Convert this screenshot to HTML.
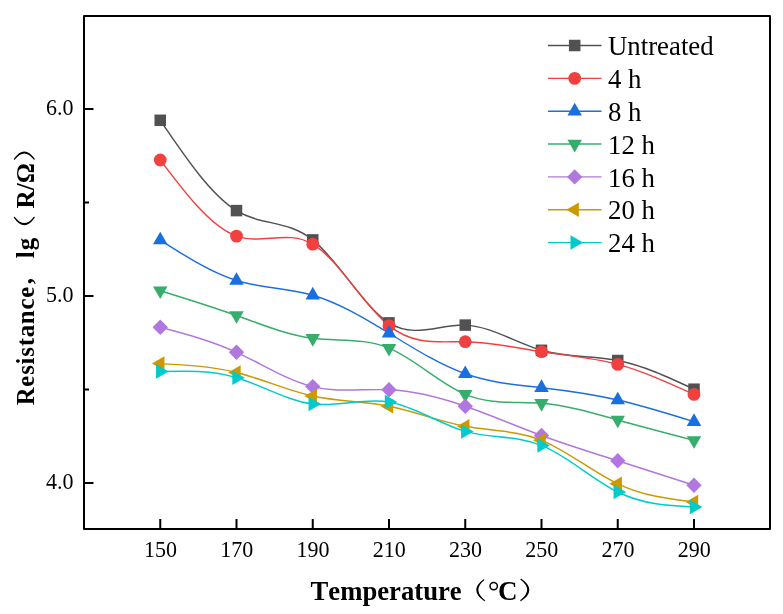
<!DOCTYPE html>
<html><head><meta charset="utf-8"><style>
html,body{margin:0;padding:0;background:#fff;}
svg{display:block;will-change:transform;}
text{font-family:"Liberation Serif",serif;}
</style></head><body>
<svg width="783" height="614" viewBox="0 0 783 614">
<rect width="783" height="614" fill="#fff"/>
<path d="M160.25 120.30C185.67 157.70 211.08 195.10 236.50 210.60C261.92 226.10 287.33 219.70 312.75 239.90C338.17 260.10 363.58 306.90 389.00 322.90C414.42 338.90 439.83 324.09 465.25 325.10C490.67 326.11 516.08 342.93 541.50 350.30C566.92 357.67 592.33 355.59 617.75 360.50C643.17 365.41 668.58 377.30 694.00 389.20" fill="none" stroke="#515151" stroke-width="1.45"/>
<path d="M160.25 160.00C185.67 193.60 211.08 227.21 236.50 236.10C261.92 244.99 287.33 229.18 312.75 244.20C338.17 259.22 363.58 305.09 389.00 325.60C414.42 346.11 439.83 341.27 465.25 341.70C490.67 342.13 516.08 347.84 541.50 351.70C566.92 355.56 592.33 357.59 617.75 364.40C643.17 371.21 668.58 382.81 694.00 394.40" fill="none" stroke="#F14040" stroke-width="1.45"/>
<path d="M160.25 240.00C185.67 256.30 211.08 272.60 236.50 280.50C261.92 288.40 287.33 287.89 312.75 295.20C338.17 302.51 363.58 317.63 389.00 333.20C414.42 348.77 439.83 364.78 465.25 373.80C490.67 382.82 516.08 384.86 541.50 387.70C566.92 390.54 592.33 394.20 617.75 400.00C643.17 405.80 668.58 413.75 694.00 421.70" fill="none" stroke="#1A6FDF" stroke-width="1.45"/>
<path d="M160.25 290.70C185.67 298.53 211.08 306.37 236.50 315.50C261.92 324.63 287.33 335.06 312.75 338.30C338.17 341.54 363.58 337.58 389.00 348.10C414.42 358.62 439.83 383.62 465.25 394.30C490.67 404.98 516.08 401.32 541.50 403.30C566.92 405.28 592.33 412.88 617.75 420.00C643.17 427.12 668.58 433.76 694.00 440.40" fill="none" stroke="#37AD6B" stroke-width="1.45"/>
<path d="M160.25 327.30C185.67 334.00 211.08 340.70 236.50 352.30C261.92 363.90 287.33 380.42 312.75 386.60C338.17 392.78 363.58 388.64 389.00 389.80C414.42 390.96 439.83 397.43 465.25 406.20C490.67 414.97 516.08 426.05 541.50 435.50C566.92 444.95 592.33 452.79 617.75 460.80C643.17 468.81 668.58 477.01 694.00 485.20" fill="none" stroke="#B177DE" stroke-width="1.45"/>
<path d="M160.25 363.60C185.67 364.86 211.08 366.12 236.50 372.50C261.92 378.88 287.33 390.40 312.75 396.00C338.17 401.60 363.58 401.30 389.00 406.30C414.42 411.30 439.83 421.59 465.25 426.30C490.67 431.01 516.08 430.13 541.50 440.30C566.92 450.47 592.33 471.68 617.75 483.80C643.17 495.92 668.58 498.96 694.00 502.00" fill="none" stroke="#CC9900" stroke-width="1.45"/>
<path d="M160.25 371.60C185.67 370.91 211.08 370.21 236.50 377.70C261.92 385.19 287.33 400.86 312.75 404.00C338.17 407.14 363.58 397.74 389.00 402.00C414.42 406.26 439.83 424.17 465.25 431.40C490.67 438.63 516.08 435.19 541.50 445.40C566.92 455.61 592.33 479.46 617.75 492.00C643.17 504.54 668.58 505.77 694.00 507.00" fill="none" stroke="#00CBCC" stroke-width="1.45"/>
<rect x="154.50" y="114.55" width="11.50" height="11.50" fill="#515151"/>
<rect x="230.75" y="204.85" width="11.50" height="11.50" fill="#515151"/>
<rect x="307.00" y="234.15" width="11.50" height="11.50" fill="#515151"/>
<rect x="383.25" y="317.15" width="11.50" height="11.50" fill="#515151"/>
<rect x="459.50" y="319.35" width="11.50" height="11.50" fill="#515151"/>
<rect x="535.75" y="344.55" width="11.50" height="11.50" fill="#515151"/>
<rect x="612.00" y="354.75" width="11.50" height="11.50" fill="#515151"/>
<rect x="688.25" y="383.45" width="11.50" height="11.50" fill="#515151"/>
<circle cx="160.25" cy="160.00" r="6.40" fill="#F14040"/>
<circle cx="236.50" cy="236.10" r="6.40" fill="#F14040"/>
<circle cx="312.75" cy="244.20" r="6.40" fill="#F14040"/>
<circle cx="389.00" cy="325.60" r="6.40" fill="#F14040"/>
<circle cx="465.25" cy="341.70" r="6.40" fill="#F14040"/>
<circle cx="541.50" cy="351.70" r="6.40" fill="#F14040"/>
<circle cx="617.75" cy="364.40" r="6.40" fill="#F14040"/>
<circle cx="694.00" cy="394.40" r="6.40" fill="#F14040"/>
<path d="M160.25 231.63L167.50 244.19L153.00 244.19Z" fill="#1A6FDF"/>
<path d="M236.50 272.13L243.75 284.69L229.25 284.69Z" fill="#1A6FDF"/>
<path d="M312.75 286.83L320.00 299.39L305.50 299.39Z" fill="#1A6FDF"/>
<path d="M389.00 324.83L396.25 337.39L381.75 337.39Z" fill="#1A6FDF"/>
<path d="M465.25 365.43L472.50 377.99L458.00 377.99Z" fill="#1A6FDF"/>
<path d="M541.50 379.33L548.75 391.89L534.25 391.89Z" fill="#1A6FDF"/>
<path d="M617.75 391.63L625.00 404.19L610.50 404.19Z" fill="#1A6FDF"/>
<path d="M694.00 413.33L701.25 425.89L686.75 425.89Z" fill="#1A6FDF"/>
<path d="M160.25 299.07L167.50 286.51L153.00 286.51Z" fill="#37AD6B"/>
<path d="M236.50 323.87L243.75 311.31L229.25 311.31Z" fill="#37AD6B"/>
<path d="M312.75 346.67L320.00 334.11L305.50 334.11Z" fill="#37AD6B"/>
<path d="M389.00 356.47L396.25 343.91L381.75 343.91Z" fill="#37AD6B"/>
<path d="M465.25 402.67L472.50 390.11L458.00 390.11Z" fill="#37AD6B"/>
<path d="M541.50 411.67L548.75 399.11L534.25 399.11Z" fill="#37AD6B"/>
<path d="M617.75 428.37L625.00 415.81L610.50 415.81Z" fill="#37AD6B"/>
<path d="M694.00 448.77L701.25 436.21L686.75 436.21Z" fill="#37AD6B"/>
<path d="M160.25 319.60L167.95 327.30L160.25 335.00L152.55 327.30Z" fill="#B177DE"/>
<path d="M236.50 344.60L244.20 352.30L236.50 360.00L228.80 352.30Z" fill="#B177DE"/>
<path d="M312.75 378.90L320.45 386.60L312.75 394.30L305.05 386.60Z" fill="#B177DE"/>
<path d="M389.00 382.10L396.70 389.80L389.00 397.50L381.30 389.80Z" fill="#B177DE"/>
<path d="M465.25 398.50L472.95 406.20L465.25 413.90L457.55 406.20Z" fill="#B177DE"/>
<path d="M541.50 427.80L549.20 435.50L541.50 443.20L533.80 435.50Z" fill="#B177DE"/>
<path d="M617.75 453.10L625.45 460.80L617.75 468.50L610.05 460.80Z" fill="#B177DE"/>
<path d="M694.00 477.50L701.70 485.20L694.00 492.90L686.30 485.20Z" fill="#B177DE"/>
<path d="M151.88 363.60L164.44 356.35L164.44 370.85Z" fill="#CC9900"/>
<path d="M228.13 372.50L240.69 365.25L240.69 379.75Z" fill="#CC9900"/>
<path d="M304.38 396.00L316.94 388.75L316.94 403.25Z" fill="#CC9900"/>
<path d="M380.63 406.30L393.19 399.05L393.19 413.55Z" fill="#CC9900"/>
<path d="M456.88 426.30L469.44 419.05L469.44 433.55Z" fill="#CC9900"/>
<path d="M533.13 440.30L545.69 433.05L545.69 447.55Z" fill="#CC9900"/>
<path d="M609.38 483.80L621.94 476.55L621.94 491.05Z" fill="#CC9900"/>
<path d="M685.63 502.00L698.19 494.75L698.19 509.25Z" fill="#CC9900"/>
<path d="M168.62 371.60L156.06 364.35L156.06 378.85Z" fill="#00CBCC"/>
<path d="M244.87 377.70L232.31 370.45L232.31 384.95Z" fill="#00CBCC"/>
<path d="M321.12 404.00L308.56 396.75L308.56 411.25Z" fill="#00CBCC"/>
<path d="M397.37 402.00L384.81 394.75L384.81 409.25Z" fill="#00CBCC"/>
<path d="M473.62 431.40L461.06 424.15L461.06 438.65Z" fill="#00CBCC"/>
<path d="M549.87 445.40L537.31 438.15L537.31 452.65Z" fill="#00CBCC"/>
<path d="M626.12 492.00L613.56 484.75L613.56 499.25Z" fill="#00CBCC"/>
<path d="M702.37 507.00L689.81 499.75L689.81 514.25Z" fill="#00CBCC"/>
<rect x="84" y="16" width="686" height="513" fill="none" stroke="#000" stroke-width="2" stroke-linejoin="round"/>
<line x1="160.25" y1="529" x2="160.25" y2="519" stroke="#000" stroke-width="2"/>
<text transform="translate(160.55 557.2) scale(1 1.07)" font-size="22" text-anchor="middle">150</text>
<line x1="236.5" y1="529" x2="236.5" y2="519" stroke="#000" stroke-width="2"/>
<text transform="translate(236.8 557.2) scale(1 1.07)" font-size="22" text-anchor="middle">170</text>
<line x1="312.75" y1="529" x2="312.75" y2="519" stroke="#000" stroke-width="2"/>
<text transform="translate(313.05 557.2) scale(1 1.07)" font-size="22" text-anchor="middle">190</text>
<line x1="389" y1="529" x2="389" y2="519" stroke="#000" stroke-width="2"/>
<text transform="translate(389.3 557.2) scale(1 1.07)" font-size="22" text-anchor="middle">210</text>
<line x1="465.25" y1="529" x2="465.25" y2="519" stroke="#000" stroke-width="2"/>
<text transform="translate(465.55 557.2) scale(1 1.07)" font-size="22" text-anchor="middle">230</text>
<line x1="541.5" y1="529" x2="541.5" y2="519" stroke="#000" stroke-width="2"/>
<text transform="translate(541.8 557.2) scale(1 1.07)" font-size="22" text-anchor="middle">250</text>
<line x1="617.75" y1="529" x2="617.75" y2="519" stroke="#000" stroke-width="2"/>
<text transform="translate(618.05 557.2) scale(1 1.07)" font-size="22" text-anchor="middle">270</text>
<line x1="694" y1="529" x2="694" y2="519" stroke="#000" stroke-width="2"/>
<text transform="translate(694.3 557.2) scale(1 1.07)" font-size="22" text-anchor="middle">290</text>
<line x1="84" y1="109" x2="93.5" y2="109" stroke="#000" stroke-width="2"/>
<text transform="translate(73.5 115.2) scale(1 1.07)" font-size="22" text-anchor="end">6.0</text>
<line x1="84" y1="296" x2="93.5" y2="296" stroke="#000" stroke-width="2"/>
<text transform="translate(73.5 302.2) scale(1 1.07)" font-size="22" text-anchor="end">5.0</text>
<line x1="84" y1="483" x2="93.5" y2="483" stroke="#000" stroke-width="2"/>
<text transform="translate(73.5 489.2) scale(1 1.07)" font-size="22" text-anchor="end">4.0</text>
<line x1="84" y1="202.5" x2="89" y2="202.5" stroke="#000" stroke-width="2"/>
<line x1="84" y1="389.5" x2="89" y2="389.5" stroke="#000" stroke-width="2"/>
<text x="310.5" y="599.8" font-size="26.7" font-weight="bold" style="font-kerning:none">Temperature</text>
<path d="M483.70 579.90Q469.70 590.20 484.50 600.60Q471.50 590.20 483.70 579.90Z" fill="#000" stroke="#000" stroke-width="1.2" stroke-linejoin="round"/>
<circle cx="493.7" cy="586.1" r="3.7" fill="none" stroke="#000" stroke-width="1.5"/>
<text x="498" y="599.8" font-size="27" font-weight="bold">C</text>
<path d="M521.00 579.30Q536.50 589.80 520.80 600.60Q534.70 589.80 521.00 579.30Z" fill="#000" stroke="#000" stroke-width="1.2" stroke-linejoin="round"/>
<g transform="translate(34.2 405) rotate(-90)">
<text x="-0.3" y="0" font-size="24.8" font-weight="bold" textLength="118.5" lengthAdjust="spacing">Resistance</text>
<text x="120.8" y="-2" font-size="25" font-weight="bold">,</text>
<text x="146.8" y="0" font-size="24.8" font-weight="bold" textLength="20.3" lengthAdjust="spacing">lg</text>
<path d="M187.70 -19.80Q173.10 -9.90 187.70 0.00Q174.90 -9.90 187.70 -19.80Z" fill="#000" stroke="#000" stroke-width="1.2" stroke-linejoin="round"/>
<text x="196.5" y="0" font-size="24.8" font-weight="bold" textLength="45.4" lengthAdjust="spacingAndGlyphs">R/Ω</text>
<path d="M245.80 -19.80Q260.20 -9.90 245.80 0.00Q258.40 -9.90 245.80 -19.80Z" fill="#000" stroke="#000" stroke-width="1.2" stroke-linejoin="round"/>
</g>
<line x1="548" y1="45.50" x2="601.5" y2="45.50" stroke="#515151" stroke-width="1.4"/>
<rect x="568.95" y="39.75" width="11.50" height="11.50" fill="#515151"/>
<text x="608" y="55.20" font-size="26.8">Untreated</text>
<line x1="548" y1="78.35" x2="601.5" y2="78.35" stroke="#F14040" stroke-width="1.4"/>
<circle cx="574.70" cy="78.35" r="6.40" fill="#F14040"/>
<text x="608" y="88.05" font-size="26.8">4 h</text>
<line x1="548" y1="111.20" x2="601.5" y2="111.20" stroke="#1A6FDF" stroke-width="1.4"/>
<path d="M574.70 102.83L581.95 115.39L567.45 115.39Z" fill="#1A6FDF"/>
<text x="608" y="120.90" font-size="26.8">8 h</text>
<line x1="548" y1="144.05" x2="601.5" y2="144.05" stroke="#37AD6B" stroke-width="1.4"/>
<path d="M574.70 152.42L581.95 139.86L567.45 139.86Z" fill="#37AD6B"/>
<text x="608" y="153.75" font-size="26.8">12 h</text>
<line x1="548" y1="176.90" x2="601.5" y2="176.90" stroke="#B177DE" stroke-width="1.4"/>
<path d="M574.70 169.20L582.40 176.90L574.70 184.60L567.00 176.90Z" fill="#B177DE"/>
<text x="608" y="186.60" font-size="26.8">16 h</text>
<line x1="548" y1="209.75" x2="601.5" y2="209.75" stroke="#CC9900" stroke-width="1.4"/>
<path d="M566.33 209.75L578.89 202.50L578.89 217.00Z" fill="#CC9900"/>
<text x="608" y="219.45" font-size="26.8">20 h</text>
<line x1="548" y1="242.60" x2="601.5" y2="242.60" stroke="#00CBCC" stroke-width="1.4"/>
<path d="M583.07 242.60L570.51 235.35L570.51 249.85Z" fill="#00CBCC"/>
<text x="608" y="252.30" font-size="26.8">24 h</text>
</svg></body></html>
